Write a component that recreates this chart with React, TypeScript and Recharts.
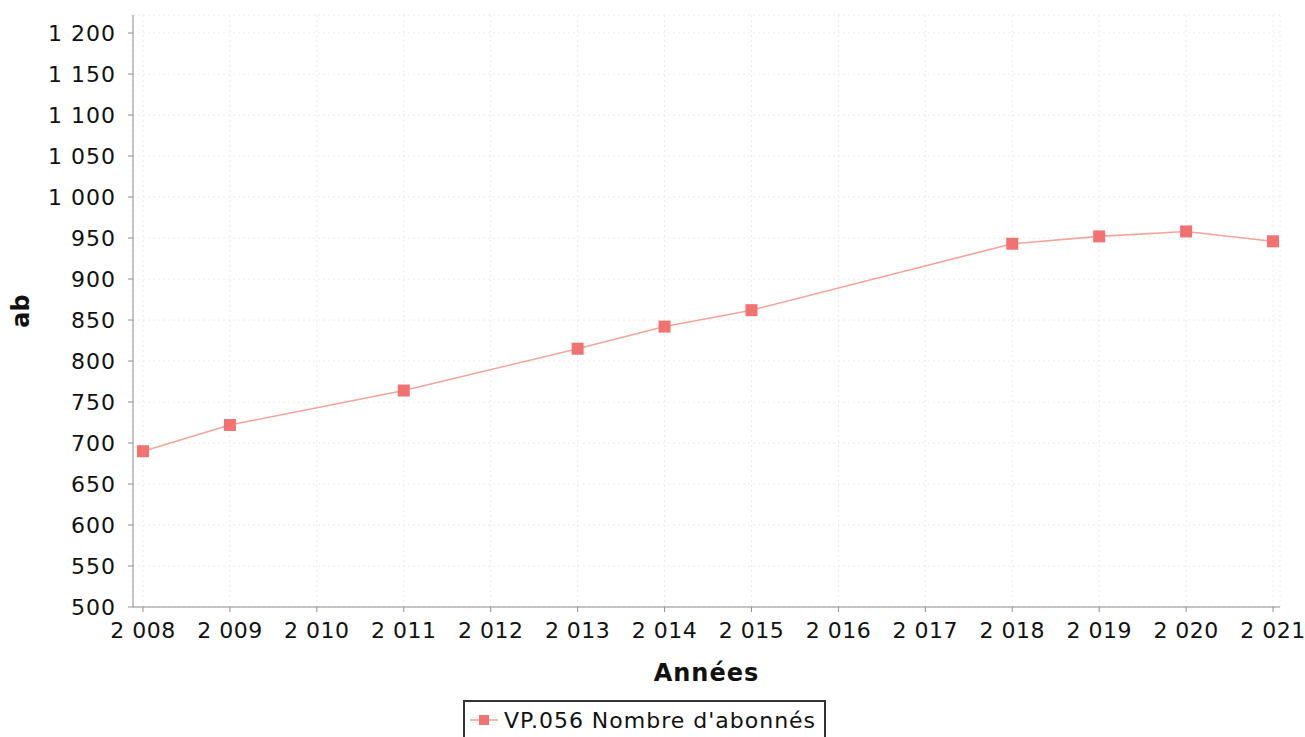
import { LineChart, Line, XAxis, YAxis, CartesianGrid } from "recharts"

const years = [2008, 2009, 2011, 2013, 2014, 2015, 2018, 2019, 2020, 2021]
const subscribers = [690, 722, 764, 815, 842, 862, 943, 952, 958, 946]
const yearTicks = [2008, 2009, 2010, 2011, 2012, 2013, 2014, 2015, 2016, 2017, 2018, 2019, 2020, 2021]
const valueTicks = [500, 550, 600, 650, 700, 750, 800, 850, 900, 950, 1000, 1050, 1100, 1150, 1200]

const seriesName = "VP.056 Nombre d'abonnés"

const data = years.map((year, i) => ({ year, value: subscribers[i] }))

const FONT = "'DejaVu Sans', sans-serif"
const LINE = "#f3a59b"
const MARKER = "#f27272"

// french style thousands grouping: 1 200, 2 008
const fmt = (v: number) => {
  if (v < 1000) return String(v)
  return `${Math.floor(v / 1000)} ${String(v % 1000).padStart(3, "0")}`
}

const SquareDot = (props: any) => {
  const { cx, cy } = props
  if (cx == null || cy == null) return null
  return <rect x={cx - 6} y={cy - 6} width={12} height={12} fill={MARKER} />
}

const yTickStyle = { fill: "#111", fontSize: 22, fontFamily: FONT, letterSpacing: 1 }
const xTickStyle = { fill: "#111", fontSize: 22, fontFamily: FONT, letterSpacing: 0.5 }

export default function App() {
  return (
    <div style={{ position: "absolute", left: 0, top: 0, width: 1305, height: 737, background: "#fff" }}>
      <LineChart width={1305} height={737} data={data} margin={{ top: 15, right: 25, left: 0, bottom: 50 }}>
        <CartesianGrid stroke="#ececec" strokeDasharray="2 3" />
        <XAxis
          dataKey="year"
          type="number"
          domain={[2007.885, 2021.08]}
          allowDataOverflow
          ticks={yearTicks}
          tickFormatter={fmt}
          tick={xTickStyle}
          tickSize={5}
          tickMargin={10}
          stroke="#8f8f8f"
          height={80}
          label={{
            value: "Années",
            position: "insideBottom",
            offset: 6,
            style: { fill: "#111", fontSize: 24, fontWeight: "bold", fontFamily: FONT, letterSpacing: 1 },
          }}
        />
        <XAxis xAxisId="top" orientation="top" dataKey="year" type="number" domain={[2007.885, 2021.08]} allowDataOverflow height={0} tick={false} tickLine={false} stroke="#999" />
        <YAxis
          type="number"
          domain={[500, 1222]}
          allowDataOverflow
          ticks={valueTicks}
          tickFormatter={fmt}
          tick={yTickStyle}
          tickSize={5}
          tickMargin={12}
          stroke="#8f8f8f"
          width={133}
          label={{
            value: "ab",
            angle: -90,
            position: "insideLeft",
            offset: 20,
            style: { fill: "#111", fontSize: 24, fontWeight: "bold", fontFamily: FONT, textAnchor: "middle" },
          }}
        />
        <YAxis yAxisId="right" orientation="right" domain={[500, 1222]} width={0} tick={false} tickLine={false} stroke="#999" />
        <Line
          dataKey="value"
          name={seriesName}
          stroke={LINE}
          strokeWidth={1.6}
          dot={<SquareDot />}
          activeDot={false}
          isAnimationActive={false}
        />
      </LineChart>
      <div
        style={{
          position: "absolute",
          left: 463,
          top: 700,
          width: 363,
          height: 40,
          border: "2px solid #333",
          display: "flex",
          alignItems: "center",
          fontFamily: FONT,
          fontSize: 22,
          letterSpacing: 1,
          color: "#111",
          boxSizing: "border-box",
        }}
      >
        <svg width={36} height={20} style={{ marginLeft: 3 }}>
          <line x1={2} y1={10} x2={30} y2={10} stroke={LINE} strokeWidth={1.6} />
          <rect x={11} y={5} width={10} height={10} fill={MARKER} />
        </svg>
        <span>{seriesName}</span>
      </div>
    </div>
  )
}
